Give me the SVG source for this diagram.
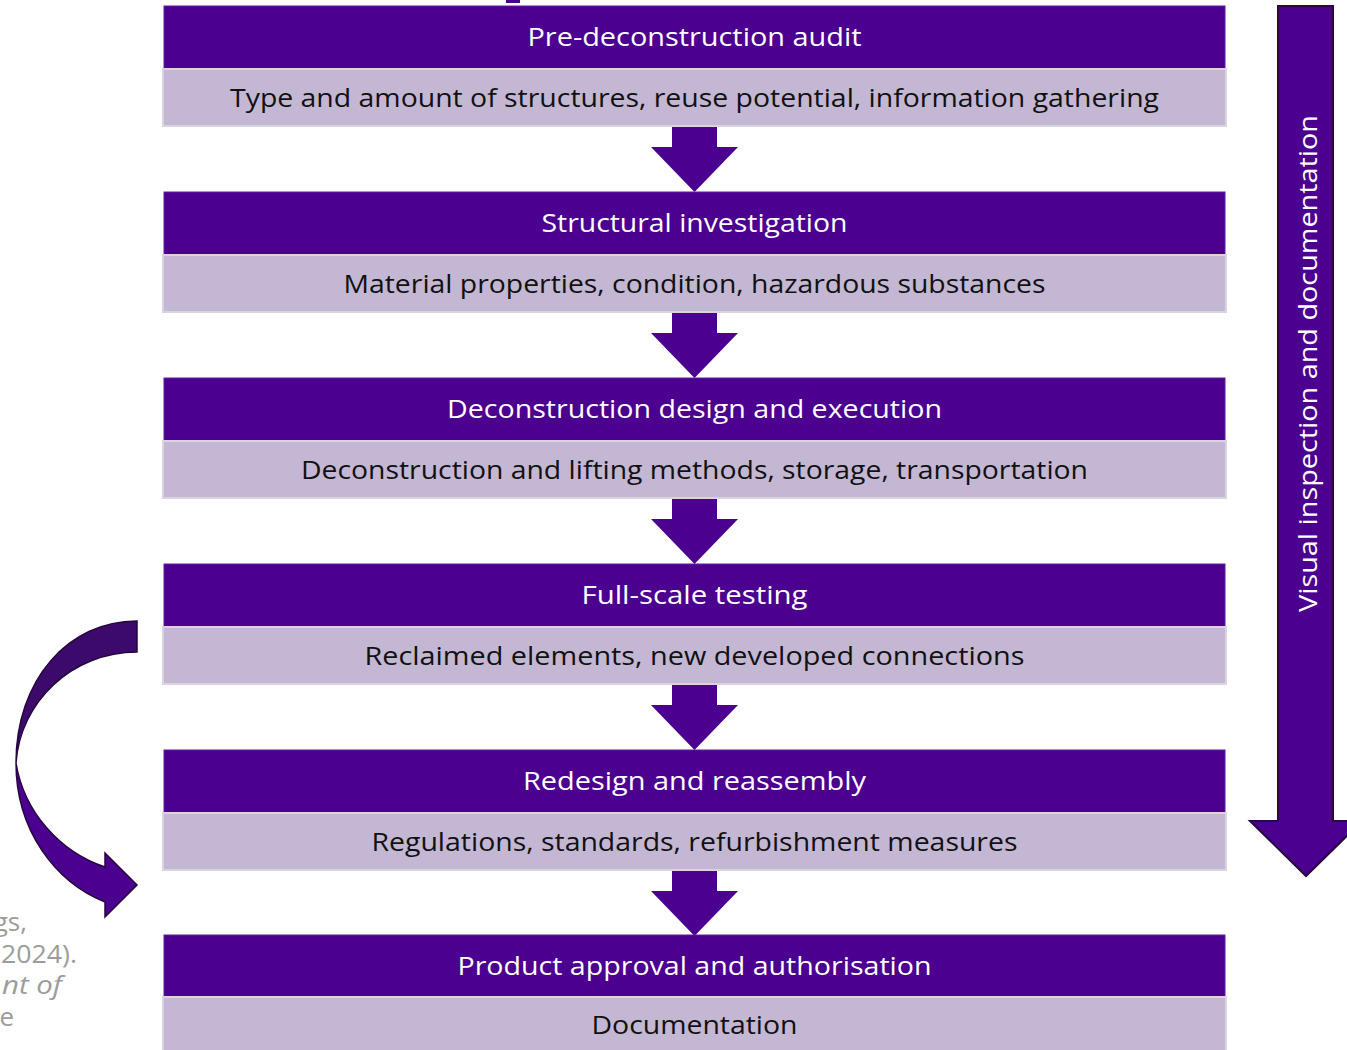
<svg xmlns="http://www.w3.org/2000/svg" width="1347" height="1050" viewBox="0 0 1347 1050">
  <defs>
    <style>
      .hdr { fill: #4b008f; stroke: #5e1fa0; stroke-width: 1; }
      .sub { fill: #c4b7d4; stroke: #dad3e3; stroke-width: 2; }
      .ht { font-family: "Open Sans", "Liberation Sans", sans-serif; font-size: 26px; fill: #ffffff; text-anchor: middle; }
      .st { font-family: "Open Sans", "Liberation Sans", sans-serif; font-size: 26px; fill: #111111; text-anchor: middle; }
      .flow { fill: #4b008f; }
      .big { fill: #4b008f; stroke: #28083f; stroke-width: 2; stroke-linejoin: miter; }
      .note { font-family: "Open Sans", "Liberation Sans", sans-serif; font-size: 26px; fill: #9c9c9c; text-anchor: end; }
    </style>
    <!-- block arrow between consecutive stages -->
    <path id="down" d="M672,0 L717,0 L717,20 L738,20 L694.5,65 L651,20 L672,20 Z"/>
  </defs>

  <rect width="1347" height="1050" fill="#ffffff"/>

  <!-- small tab at the top edge -->
  <rect x="506" y="0" width="14" height="3" fill="#4b008f"/>

  <!-- side note, cut off at the left edge -->
  <g id="note">
    <text class="note" x="27" y="931">gs,</text>
    <text class="note" x="77" y="963" textLength="76" lengthAdjust="spacingAndGlyphs">2024).</text>
    <text class="note" x="62" y="994" font-style="italic" textLength="60" lengthAdjust="spacingAndGlyphs">nt of</text>
    <text class="note" x="14" y="1026">e</text>
  </g>

  <g id="connectors">
    <use href="#down" class="flow" transform="translate(0,127)"/>
    <use href="#down" class="flow" transform="translate(0,313)"/>
    <use href="#down" class="flow" transform="translate(0,499)"/>
    <use href="#down" class="flow" transform="translate(0,685)"/>
    <use href="#down" class="flow" transform="translate(0,871)"/>

    <!-- loop-back arrow on the left -->
    <g id="loop" stroke="#25073d" stroke-width="1.5" stroke-linejoin="miter">
      <path d="M137,621 C68,621 16,680 16,763 C20,702 72,652 137,652 Z" fill="#3c0a6b"/>
      <path d="M16,763 C16,830 55,882 105,902 L105,917 L137,885 L105,853 L105,867 C60,852 24,812 16,763 Z" fill="#4b008f"/>
    </g>

    <!-- long arrow on the right -->
    <g id="side-arrow">
      <path class="big" d="M1278,6 L1333,6 L1333,821 L1362,821 L1306,876 L1250,821 L1278,821 Z"/>
      <text class="ht" transform="translate(1317,363.5) rotate(-90)" x="0" y="0" textLength="497" lengthAdjust="spacingAndGlyphs">Visual inspection and documentation</text>
    </g>
  </g>

  <g id="stage1">
    <rect class="hdr" x="164" y="6" width="1061" height="63"/>
    <rect class="sub" x="163" y="69" width="1063" height="57"/>
    <text class="ht" x="694.5" y="46" textLength="334" lengthAdjust="spacingAndGlyphs">Pre-deconstruction audit</text>
    <text class="st" x="694.5" y="107" textLength="929" lengthAdjust="spacingAndGlyphs">Type and amount of structures, reuse potential, information gathering</text>
  </g>

  <g id="stage2">
    <rect class="hdr" x="164" y="192" width="1061" height="63"/>
    <rect class="sub" x="163" y="255" width="1063" height="57"/>
    <text class="ht" x="694.5" y="232" textLength="306" lengthAdjust="spacingAndGlyphs">Structural investigation</text>
    <text class="st" x="694.5" y="293" textLength="702" lengthAdjust="spacingAndGlyphs">Material properties, condition, hazardous substances</text>
  </g>

  <g id="stage3">
    <rect class="hdr" x="164" y="378" width="1061" height="63"/>
    <rect class="sub" x="163" y="441" width="1063" height="57"/>
    <text class="ht" x="694.5" y="418" textLength="495" lengthAdjust="spacingAndGlyphs">Deconstruction design and execution</text>
    <text class="st" x="694.5" y="479" textLength="787" lengthAdjust="spacingAndGlyphs">Deconstruction and lifting methods, storage, transportation</text>
  </g>

  <g id="stage4">
    <rect class="hdr" x="164" y="564" width="1061" height="63"/>
    <rect class="sub" x="163" y="627" width="1063" height="57"/>
    <text class="ht" x="694.5" y="604" textLength="226" lengthAdjust="spacingAndGlyphs">Full-scale testing</text>
    <text class="st" x="694.5" y="665" textLength="660" lengthAdjust="spacingAndGlyphs">Reclaimed elements, new developed connections</text>
  </g>

  <g id="stage5">
    <rect class="hdr" x="164" y="750" width="1061" height="63"/>
    <rect class="sub" x="163" y="813" width="1063" height="57"/>
    <text class="ht" x="694.5" y="790" textLength="343" lengthAdjust="spacingAndGlyphs">Redesign and reassembly</text>
    <text class="st" x="694.5" y="851" textLength="646" lengthAdjust="spacingAndGlyphs">Regulations, standards, refurbishment measures</text>
  </g>

  <g id="stage6">
    <rect class="hdr" x="164" y="935" width="1061" height="62"/>
    <rect class="sub" x="163" y="997" width="1063" height="60"/>
    <text class="ht" x="694.5" y="975" textLength="474" lengthAdjust="spacingAndGlyphs">Product approval and authorisation</text>
    <text class="st" x="694.5" y="1034" textLength="206" lengthAdjust="spacingAndGlyphs">Documentation</text>
  </g>
</svg>
